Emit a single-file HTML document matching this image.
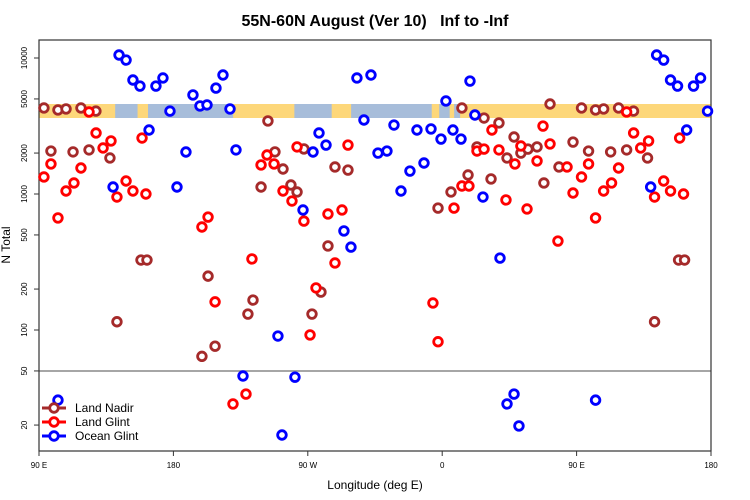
<!DOCTYPE html>
<html><head><meta charset="utf-8"><style>
html,body{margin:0;padding:0;background:#fff;}
svg{display:block;font-family:"Liberation Sans",sans-serif;}
</style></head><body>
<svg id="chart" width="750" height="500" xmlns="http://www.w3.org/2000/svg">
<text x="375" y="26" text-anchor="middle" font-size="16" font-weight="bold">55N-60N August (Ver 10)&#160;&#160; Inf to -Inf</text>
<text x="375" y="489" text-anchor="middle" font-size="12">Longitude (deg E)</text>
<text x="10" y="245" text-anchor="middle" font-size="12" transform="rotate(-90 10 245)">N Total</text>
<g id="band"></g>
<g id="axes"></g>
<g id="marks"></g>
<g id="legend">
  <g>
    <line x1="42" y1="408" x2="66" y2="408" stroke="#A52A2A" stroke-width="3"/>
    <circle cx="54" cy="408" r="4.3" fill="#fff" stroke="#A52A2A" stroke-width="2.8"/>
    <text x="75" y="412" font-size="12">Land Nadir</text>
  </g>
  <g>
    <line x1="42" y1="422" x2="66" y2="422" stroke="#FF0000" stroke-width="3"/>
    <circle cx="54" cy="422" r="4.3" fill="#fff" stroke="#FF0000" stroke-width="2.8"/>
    <text x="75" y="426" font-size="12">Land Glint</text>
  </g>
  <g>
    <line x1="42" y1="436" x2="66" y2="436" stroke="#0000FF" stroke-width="3"/>
    <circle cx="54" cy="436" r="4.3" fill="#fff" stroke="#0000FF" stroke-width="2.8"/>
    <text x="75" y="440" font-size="12">Ocean Glint</text>
  </g>
</g>
</svg>
<script>
const nadirLon = [93.3,102.7,108.1,118.1,128.1,98.0,112.8,123.5,137.5,158.3,162.3,142.2,-116.7,-112,-106.6,-121.3,-101.3,-97.2,-92.6,-156.8,-126.7,-130.1,-87.2,-152.1,-160.9,-71.8,-63.1,-76.5,-81.2,-2.8,5.9,13.2,28,38,48.1,23.3,43.4,52.7,57.4,63.5,72.2,87.6,17.3,32.7,68.1,78.2];
const nadirVal = [4290,4150,4220,4290,4070,2070,2040,2110,1840,327,327,115,3445,2040,1527,1126,1165,1035,2145,249,166,131,131,76,64,1580,1500,415,190,788,1035,4290,3620,3330,2625,2220,1840,2000,2140,2220,4590,2410,1380,1290,1205,1580];
const glintLon = [123.5,93.3,98,108.1,113.4,118.1,102.7,128.2,132.9,138.2,142.2,148.3,152.9,159,161.6,-97.2,-117.3,-121.3,-112.6,-106.6,-100.6,-92.6,-156.8,-160.9,-127.4,-152.1,-88.5,-131.4,-140.1,-84.5,-63.1,-76.5,-67.1,-71.8,-6.2,-2.8,33.3,23.3,28,38,52.7,48.7,63.5,67.5,72.2,83.6,13.2,17.9,7.9,42.7,56.8,77.5,87.6];
const glintVal = [4010,1334,1663,1052,1205,1553,667,2810,2180,2455,950,1246,1052,2580,1000,2220,1935,1635,1663,1052,888,632,677,572,333,161,92,33.8,28.6,204,2290,713,763,311,158,82,2955,2070,2140,2110,2255,1663,1750,3160,2335,1580,1145,1145,788,904,776,451,1017];
const oceanLon = [102.7,139.6,143.6,148.3,152.9,157.6,163.7,168.3,173,177.7,-177.6,-171.6,-166.9,-162.2,-157.5,-151.5,-146.8,-142.1,-138.1,-133.4,-110,-107.3,-98.6,-93.2,-86.5,-82.5,-77.8,-65.8,-61.1,-57.1,-52.4,-47.7,-43,-37,-32.3,-27.6,-21.6,-16.9,-12.2,-7.5,-0.8,2.5,7.2,12.6,18.6,21.9,27.3,38.7,43.4,48.1,51.4];
const oceanVal = [30.5,1126,10520,9660,6890,6220,2955,6220,7130,4070,1126,2036,5350,4440,4520,6010,7500,4220,2110,45.9,90.3,16.9,45,763,2036,2810,2290,535,407,7130,3500,7500,2000,2070,3215,1052,1475,2955,1690,3010,2535,4830,2955,2535,6770,3810,950,338,28.6,33.8,19.7];
const yTicks = [10000,5000,2000,1000,500,200,100,50,20];
const xTickU = [90,180,270,360,450,540];
const xTickLabels = ["90 E","180","90 W","0","90 E","180"];
const landStart = [90,156,-140,-74,-7,5,12];
const landEnd = [141,163,-99,-61,-2,8,180];

const L=39,R=711,T=40,B=451;
function ux(u){return L+(u-90)*(R-L)/450;}
function yv(v){return 194-(Math.log10(v)-3)*136;}
function uList(lon){const a=[];const u=lon<90?lon+360:lon;a.push(u);if(lon>=90)a.push(lon+360);return a;}
const NS="http://www.w3.org/2000/svg";
function mk(tag,attrs,parent){const e=document.createElementNS(NS,tag);for(const k in attrs)e.setAttribute(k,attrs[k]);parent.appendChild(e);return e;}

const band=document.getElementById('band');
const y0=104,y1=118;
let r=mk('rect',{x:L,y:y0,width:R-L,height:y1-y0,fill:'#A7BDDA'},band);


for(let i=0;i<landStart.length;i++){
  const segs=[];
  let a=landStart[i],b=landEnd[i];
  if(a>=90){segs.push([a,b]);segs.push([a+360,b+360]);}
  else segs.push([a+360,b+360]);
  segs.forEach(s=>{
    const x1=Math.max(L,ux(s[0])),x2=Math.min(R,ux(s[1]));
    const e=mk('rect',{x:x1,y:y0,width:Math.max(0,x2-x1),height:y1-y0,fill:'#FDD77A'},band);
    
    
  });
}

const ax=document.getElementById('axes');
const ln=mk('line',{x1:L,y1:yv(50),x2:R,y2:yv(50),stroke:'#888',"stroke-width":1.5},ax);


const box=mk('rect',{x:L,y:T,width:R-L,height:B-T,fill:'none',stroke:'#333',"stroke-width":1.2},ax);


yTicks.forEach(v=>{
  const y=yv(v);
  const t=mk('line',{x1:L-5,y1:y,x2:L,y2:y,stroke:'#333'},ax);
  
  
  const tx=mk('text',{x:27,y:y,"font-size":8,"text-anchor":"middle",transform:`rotate(-90 27 ${y})`},ax);
  tx.textContent=v;
  
  
});
xTickU.forEach((u,i)=>{
  const x=ux(u);
  const t=mk('line',{x1:x,y1:B,x2:x,y2:B+5,stroke:'#333'},ax);
  
  
  const tx=mk('text',{x:x,y:468,"font-size":8,"text-anchor":"middle"},ax);
  tx.textContent=xTickLabels[i];
  
  
});

const marks=document.getElementById('marks');
function series(lons,vals,color,name){
  lons.forEach((lon,i)=>{
    uList(lon).forEach(u=>{
      const c=mk('circle',{cx:ux(u),cy:yv(vals[i]),r:4.3,fill:'#fff',stroke:color,"stroke-width":2.8},marks);
      
      
    });
  });
}
series(nadirLon,nadirVal,'#A52A2A','land-nadir-point');
series(glintLon,glintVal,'#FF0000','land-glint-point');
series(oceanLon,oceanVal,'#0000FF','ocean-glint-point');
</script>
</body></html>
